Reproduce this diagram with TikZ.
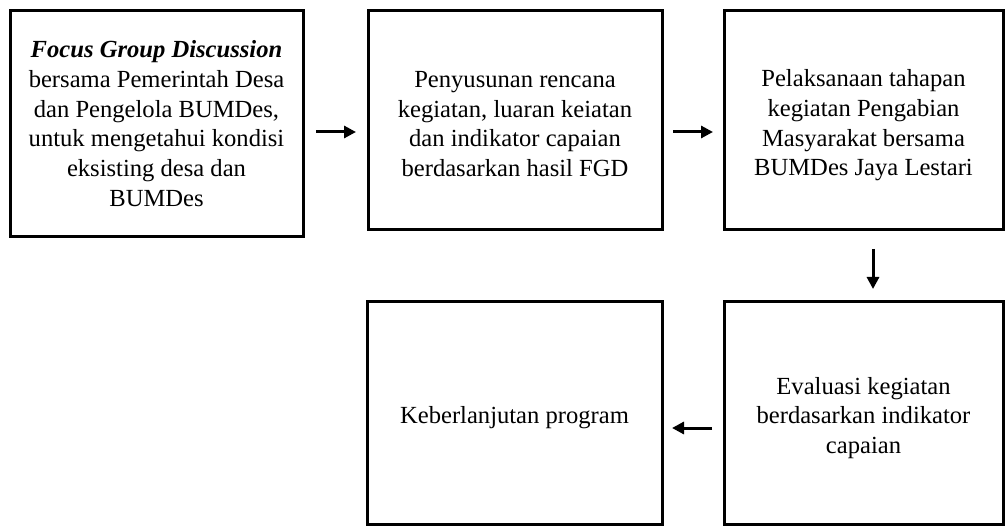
\documentclass[tikz,border=0pt]{standalone}
\usepackage{fontspec}
\setmainfont{Liberation Serif}
\usetikzlibrary{arrows.meta}
\begin{document}
\begin{tikzpicture}[x=1pt,y=-1pt,
  box/.style={draw=black,line width=3pt,rectangle,outer sep=0pt,inner sep=0pt},
  txt/.style={align=center,inner sep=0pt,font=\fontsize{24.6pt}{29.7pt}\selectfont},
  arr/.style={line width=3pt,-{Triangle[length=12pt,width=12pt]}}]
\useasboundingbox (0,0) rectangle (1006,526);
\begin{scope}
\clip (0,0) rectangle (1006,526);
\node[box,minimum width=293pt,minimum height=226pt] (b1) at (156.5,124) {};
\node[box,minimum width=294pt,minimum height=219pt] (b2) at (515,120.5) {};
\node[box,minimum width=279pt,minimum height=219pt] (b3) at (863.5,120.5) {};
\node[box,minimum width=279pt,minimum height=222pt] (b5) at (863.5,413) {};
\node[box,minimum width=295pt,minimum height=222pt] (b4) at (514.5,413) {};
\end{scope}
\node[txt] (t1) at ([yshift=0.5pt]b1.center)
  {\textbf{\textit{Focus Group Discussion}}\\bersama Pemerintah Desa\\dan Pengelola BUMDes,\\untuk mengetahui kondisi\\eksisting desa dan\\BUMDes};
\node[txt] (t2) at ([yshift=-3.5pt]b2.center)
  {Penyusunan rencana\\kegiatan, luaran keiatan\\dan indikator capaian\\berdasarkan hasil FGD};
\node[txt] (t3) at ([yshift=-5pt]b3.center)
  {Pelaksanaan tahapan\\kegiatan Pengabian\\Masyarakat bersama\\BUMDes Jaya Lestari};
\node[txt] (t5) at ([yshift=-5pt]b5.center)
  {Evaluasi kegiatan\\berdasarkan indikator\\capaian};
\node[txt] (t4) at ([yshift=-4.3pt]b4.center)
  {Keberlanjutan program};
\draw[arr,shorten <=13pt,shorten >=12pt] (b1.east |- 0,132) -- (b2.west |- 0,132);
\draw[arr,shorten <=11pt,shorten >=11pt] (b2.east |- 0,132) -- (b3.west |- 0,132);
\draw[arr,shorten <=19pt,shorten >=13pt] (b3.south -| 873,0) -- (b5.north -| 873,0);
\draw[arr,shorten <=12pt,shorten >=10pt] (b5.west |- 0,428) -- (b4.east |- 0,428);
\end{tikzpicture}
\end{document}
